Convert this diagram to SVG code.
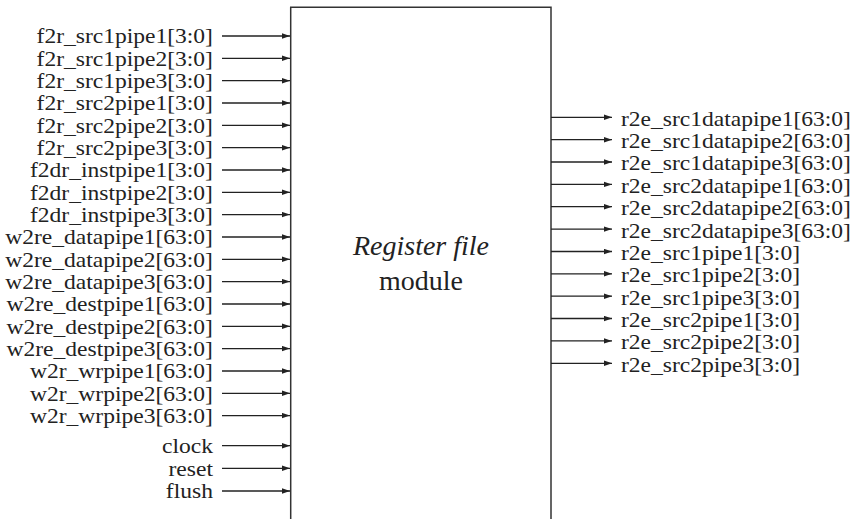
<svg xmlns="http://www.w3.org/2000/svg" width="862" height="519" viewBox="0 0 862 519">
<style>
.lbl{font-family:"Liberation Serif","Times New Roman",serif;font-size:22px;fill:#222}
.l{text-anchor:end}
.r{text-anchor:start}
.w{stroke:#222;stroke-width:1.3;fill:none;marker-end:url(#ah)}
.box{stroke:#333;stroke-width:1.5;fill:none}
.title{font-family:"Liberation Serif","Times New Roman",serif;font-size:28px;fill:#222;text-anchor:middle}
</style>
<defs>
<marker id="ah" markerUnits="userSpaceOnUse" markerWidth="9" markerHeight="7" refX="8" refY="3" orient="auto">
<path d="M0,0.3 L8,3 L0,5.7 Z" fill="#222"/>
</marker>
</defs>
<rect width="862" height="519" fill="#fff"/>
<g id="module">
<path class="box" d="M290.7,519 V7.3 H551 V519"/>
<text class="title" x="421" y="255" font-style="italic">Register file</text>
<text class="title" x="421" y="290">module</text>
</g>
<g id="connectors">
<line class="w" x1="222" y1="36" x2="290" y2="36"/>
<line class="w" x1="222" y1="58.3" x2="290" y2="58.3"/>
<line class="w" x1="222" y1="80.7" x2="290" y2="80.7"/>
<line class="w" x1="222" y1="103" x2="290" y2="103"/>
<line class="w" x1="222" y1="125.3" x2="290" y2="125.3"/>
<line class="w" x1="222" y1="147.7" x2="290" y2="147.7"/>
<line class="w" x1="222" y1="170" x2="290" y2="170"/>
<line class="w" x1="222" y1="192.3" x2="290" y2="192.3"/>
<line class="w" x1="222" y1="214.6" x2="290" y2="214.6"/>
<line class="w" x1="222" y1="237" x2="290" y2="237"/>
<line class="w" x1="222" y1="259.3" x2="290" y2="259.3"/>
<line class="w" x1="222" y1="281.6" x2="290" y2="281.6"/>
<line class="w" x1="222" y1="304" x2="290" y2="304"/>
<line class="w" x1="222" y1="326.3" x2="290" y2="326.3"/>
<line class="w" x1="222" y1="348.6" x2="290" y2="348.6"/>
<line class="w" x1="222" y1="371" x2="290" y2="371"/>
<line class="w" x1="222" y1="393.3" x2="290" y2="393.3"/>
<line class="w" x1="222" y1="415.6" x2="290" y2="415.6"/>
<line class="w" x1="222" y1="445.7" x2="290" y2="445.7"/>
<line class="w" x1="222" y1="468.3" x2="290" y2="468.3"/>
<line class="w" x1="222" y1="491" x2="290" y2="491"/>
<line class="w" x1="551" y1="117.3" x2="612" y2="117.3"/>
<line class="w" x1="551" y1="139.7" x2="612" y2="139.7"/>
<line class="w" x1="551" y1="162" x2="612" y2="162"/>
<line class="w" x1="551" y1="184.4" x2="612" y2="184.4"/>
<line class="w" x1="551" y1="206.7" x2="612" y2="206.7"/>
<line class="w" x1="551" y1="229.1" x2="612" y2="229.1"/>
<line class="w" x1="551" y1="251.5" x2="612" y2="251.5"/>
<line class="w" x1="551" y1="273.8" x2="612" y2="273.8"/>
<line class="w" x1="551" y1="296.2" x2="612" y2="296.2"/>
<line class="w" x1="551" y1="318.5" x2="612" y2="318.5"/>
<line class="w" x1="551" y1="340.9" x2="612" y2="340.9"/>
<line class="w" x1="551" y1="363.3" x2="612" y2="363.3"/>
</g>
<g id="inputs" transform="scale(1.07,1)">
<text class="lbl l" x="199" y="43.5">f2r_src1pipe1[3:0]</text>
<text class="lbl l" x="199" y="65.8">f2r_src1pipe2[3:0]</text>
<text class="lbl l" x="199" y="88.2">f2r_src1pipe3[3:0]</text>
<text class="lbl l" x="199" y="110.5">f2r_src2pipe1[3:0]</text>
<text class="lbl l" x="199" y="132.8">f2r_src2pipe2[3:0]</text>
<text class="lbl l" x="199" y="155.2">f2r_src2pipe3[3:0]</text>
<text class="lbl l" x="199" y="177.5">f2dr_instpipe1[3:0]</text>
<text class="lbl l" x="199" y="199.8">f2dr_instpipe2[3:0]</text>
<text class="lbl l" x="199" y="222.1">f2dr_instpipe3[3:0]</text>
<text class="lbl l" x="199" y="244.5">w2re_datapipe1[63:0]</text>
<text class="lbl l" x="199" y="266.8">w2re_datapipe2[63:0]</text>
<text class="lbl l" x="199" y="289.1">w2re_datapipe3[63:0]</text>
<text class="lbl l" x="199" y="311.5">w2re_destpipe1[63:0]</text>
<text class="lbl l" x="199" y="333.8">w2re_destpipe2[63:0]</text>
<text class="lbl l" x="199" y="356.1">w2re_destpipe3[63:0]</text>
<text class="lbl l" x="199" y="378.5">w2r_wrpipe1[63:0]</text>
<text class="lbl l" x="199" y="400.8">w2r_wrpipe2[63:0]</text>
<text class="lbl l" x="199" y="423.1">w2r_wrpipe3[63:0]</text>
<text class="lbl l" x="199" y="453.2">clock</text>
<text class="lbl l" x="199" y="475.8">reset</text>
<text class="lbl l" x="199" y="498.5">flush</text>
</g>
<g id="outputs" transform="scale(1.07,1)">
<text class="lbl r" x="580.4" y="125.8">r2e_src1datapipe1[63:0]</text>
<text class="lbl r" x="580.4" y="148.2">r2e_src1datapipe2[63:0]</text>
<text class="lbl r" x="580.4" y="170.5">r2e_src1datapipe3[63:0]</text>
<text class="lbl r" x="580.4" y="192.9">r2e_src2datapipe1[63:0]</text>
<text class="lbl r" x="580.4" y="215.2">r2e_src2datapipe2[63:0]</text>
<text class="lbl r" x="580.4" y="237.6">r2e_src2datapipe3[63:0]</text>
<text class="lbl r" x="580.4" y="260">r2e_src1pipe1[3:0]</text>
<text class="lbl r" x="580.4" y="282.3">r2e_src1pipe2[3:0]</text>
<text class="lbl r" x="580.4" y="304.7">r2e_src1pipe3[3:0]</text>
<text class="lbl r" x="580.4" y="327">r2e_src2pipe1[3:0]</text>
<text class="lbl r" x="580.4" y="349.4">r2e_src2pipe2[3:0]</text>
<text class="lbl r" x="580.4" y="371.8">r2e_src2pipe3[3:0]</text>
</g>
</svg>
